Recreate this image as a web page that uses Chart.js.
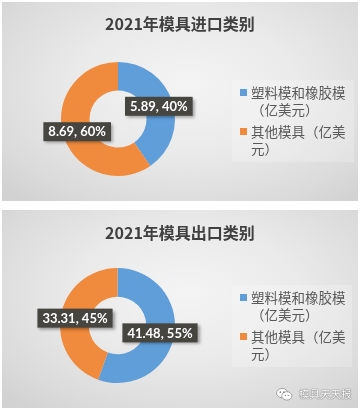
<!DOCTYPE html>
<html>
<head>
<meta charset="utf-8">
<script src="https://cdn.jsdelivr.net/npm/chart.js@4/dist/chart.umd.min.js"></script>
<style>
  html, body { margin: 0; padding: 0; background: #ffffff; }
  body { width: 361px; height: 412px; position: relative; overflow: hidden; font-family: "Noto Sans CJK SC", "Noto Sans", sans-serif; }
  .panel { position: absolute; left: 2px; width: 356px;
    background: radial-gradient(ellipse 70% 75% at 52% 42%, #f4f4f4 0%, #eaeaea 45%, #dadada 85%, #d2d2d2 100%); }
  .panel canvas { position: absolute; left: 0; top: 0; }
  .title { position: absolute; left: 0; width: 356px; text-align: center; font-weight: bold; font-size: 16px; color: #404040; line-height: 20px; }
  .legend { position: absolute; background: rgba(255,255,255,0.22); box-sizing: border-box; padding: 4px 0 0 8px; }
  .item { position: relative; padding-left: 11px; width: 97px; font-size: 13.5px; line-height: 17px; color: #595959; margin-bottom: 5px; }
  .sw { position: absolute; left: 0; top: 5px; width: 7px; height: 7px; }
  .wm { position: absolute; left: 276px; top: 387px; font-size: 10.5px; line-height: 14px; color: #fff; display: flex; align-items: center; white-space: nowrap;
    text-shadow: 0 0 1px #777, 0 0 1px #777, 0 0 1px #777; }
</style>
</head>
<body>
<div class="panel" id="p1" style="top:2px;height:199px;">
  <canvas id="c1" width="356" height="199"></canvas>
  <div class="title" id="t1" style="top:11px;"></div>
  <div class="legend" id="l1" style="left:230px;top:78px;width:122px;height:82px;"></div>
</div>
<div class="panel" id="p2" style="top:210px;height:198px;">
  <canvas id="c2" width="356" height="198"></canvas>
  <div class="title" id="t2" style="top:12px;"></div>
  <div class="legend" id="l2" style="left:230px;top:75px;width:120px;height:82px;"></div>
</div>
<div class="wm">
  <svg width="17" height="13" viewBox="0 0 18 14" style="margin-right:6px">
    <ellipse cx="6.5" cy="5.5" rx="6" ry="5" fill="#fff" stroke="#888" stroke-width="0.8"/>
    <ellipse cx="11.5" cy="8.5" rx="5.5" ry="4.5" fill="#fff" stroke="#888" stroke-width="0.8"/>
    <circle cx="4.5" cy="4.5" r="0.9" fill="#888"/><circle cx="8.3" cy="4.5" r="0.9" fill="#888"/>
    <circle cx="10" cy="8" r="0.7" fill="#888"/><circle cx="13" cy="8" r="0.7" fill="#888"/>
  </svg>
  <span>模具天天报</span>
</div>
<script>
// ---- data ----
const categories = ["塑料模和橡胶模（亿美元）", "其他模具（亿美元）"];
const importTitle = "2021年模具进口类别";
const importValues = [5.89, 8.69];
const exportTitle = "2021年模具出口类别";
const exportValues = [41.48, 33.31];
const sliceColors = ["#5f9ed9", "#f08a3c"];

const labelPlugin = {
  id: 'boxLabels',
  afterDatasetsDraw(chart) {
    const ctx = chart.ctx;
    const ds = chart.data.datasets[0];
    const total = ds.data.reduce((a, b) => a + b, 0);
    const meta = chart.getDatasetMeta(0);
    meta.data.forEach((arc, i) => {
      const p = arc.tooltipPosition();
      const v = ds.data[i];
      const txt = v.toFixed(2) + ', ' + Math.round(v / total * 100) + '%';
      ctx.save();
      ctx.font = 'bold 13px Lato, "Open Sans", sans-serif';
      const w = ctx.measureText(txt).width + 10;
      const h = 19;
      ctx.shadowColor = 'rgba(0,0,0,0.35)';
      ctx.shadowBlur = 3;
      ctx.shadowOffsetX = 2;
      ctx.shadowOffsetY = 2;
      ctx.fillStyle = '#46453f';
      ctx.fillRect(p.x - w / 2, p.y - h / 2, w, h);
      ctx.shadowColor = 'transparent';
      ctx.fillStyle = '#ffffff';
      ctx.textAlign = 'center';
      ctx.textBaseline = 'middle';
      ctx.fillText(txt, p.x, p.y + 0.5);
      ctx.restore();
    });
  }
};

function makeChart(canvasId, values, pad) {
  return new Chart(document.getElementById(canvasId), {
    type: 'doughnut',
    data: {
      labels: categories,
      datasets: [{ data: values, backgroundColor: sliceColors, borderWidth: 0 }]
    },
    options: {
      responsive: false,
      animation: false,
      devicePixelRatio: 1,
      cutout: '50%',
      layout: { padding: pad },
      plugins: { legend: { display: false }, tooltip: { enabled: false }, title: { display: false } }
    },
    plugins: [labelPlugin]
  });
}

function makeLegend(id) {
  const el = document.getElementById(id);
  categories.forEach((c, i) => {
    const d = document.createElement('div');
    d.className = 'item';
    const s = document.createElement('span');
    s.className = 'sw';
    s.style.background = sliceColors[i];
    d.appendChild(s);
    d.appendChild(document.createTextNode(c));
    el.appendChild(d);
  });
}

document.getElementById('t1').textContent = importTitle;
document.getElementById('t2').textContent = exportTitle;
makeLegend('l1');
makeLegend('l2');
makeChart('c1', importValues, { left: 59, right: 183, top: 60, bottom: 25 });
makeChart('c2', exportValues, { left: 58, right: 183, top: 58, bottom: 25 });
</script>
</body>
</html>
